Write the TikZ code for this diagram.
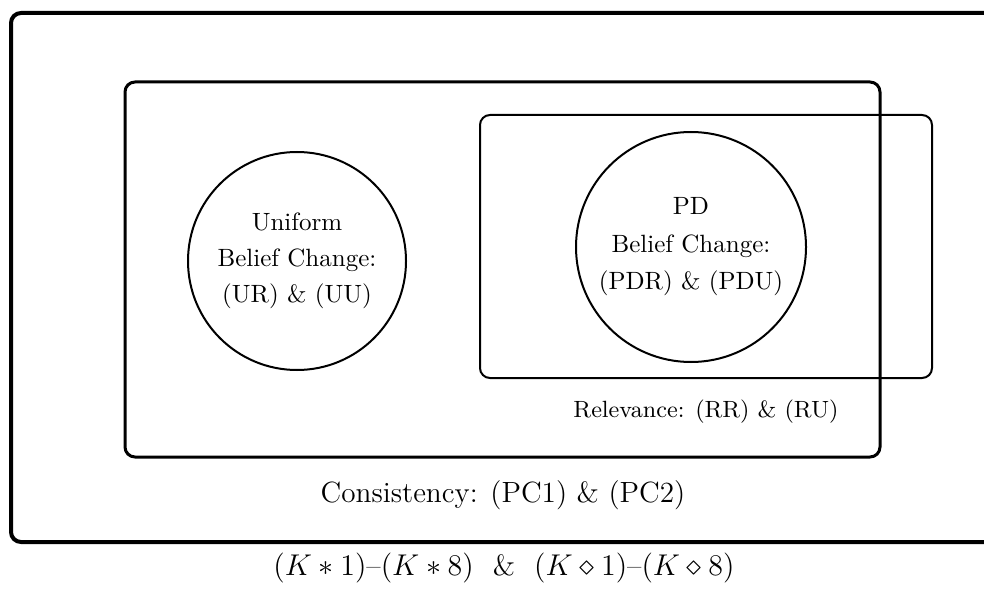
\documentclass[tikz,border=0pt]{standalone}
\usetikzlibrary{positioning}

\begin{document}
\begin{tikzpicture}[x=0.4pt, y=-0.4pt,
     R/.style = {rounded corners=4pt},
     C/.style = {draw, thick, circle, align=center, inner sep=0pt},
  lbl/.style = {inner sep=0pt, anchor=base}
                        ]
\useasboundingbox (0,0) rectangle (984,592);
% sets of operators
\draw[R, ultra thick] (11,13) rectangle (1010,542);
\draw[R, very thick] (125,82) rectangle (880,457);
\draw[R, thick] (480,115) rectangle (932,378);
\node[C, minimum size=87.2pt] (uniform) at (297,261)
     {Uniform\\[2.4pt] Belief Change:\\[2.4pt] (UR) \& (UU)};
\node[C, minimum size=92pt] (pd) at (691,247)
     {PD\\[3pt] Belief Change:\\[3pt] (PDR) \& (PDU)};
\node[lbl] (relevance) at (706,417) {\fontsize{9.4}{11}\selectfont Relevance: (RR) \& (RU)};
\node[lbl] (consistency) at (503,502) {\fontsize{11.7}{14}\selectfont Consistency: (PC1) \& (PC2)};
\node[lbl] (axioms) at (504,575)
     {\fontsize{11.7}{14}\selectfont $(K*1)$--$(K*8)$ \ \& \ $(K\diamond 1)$--$(K\diamond 8)$};
\end{tikzpicture}
\end{document}
